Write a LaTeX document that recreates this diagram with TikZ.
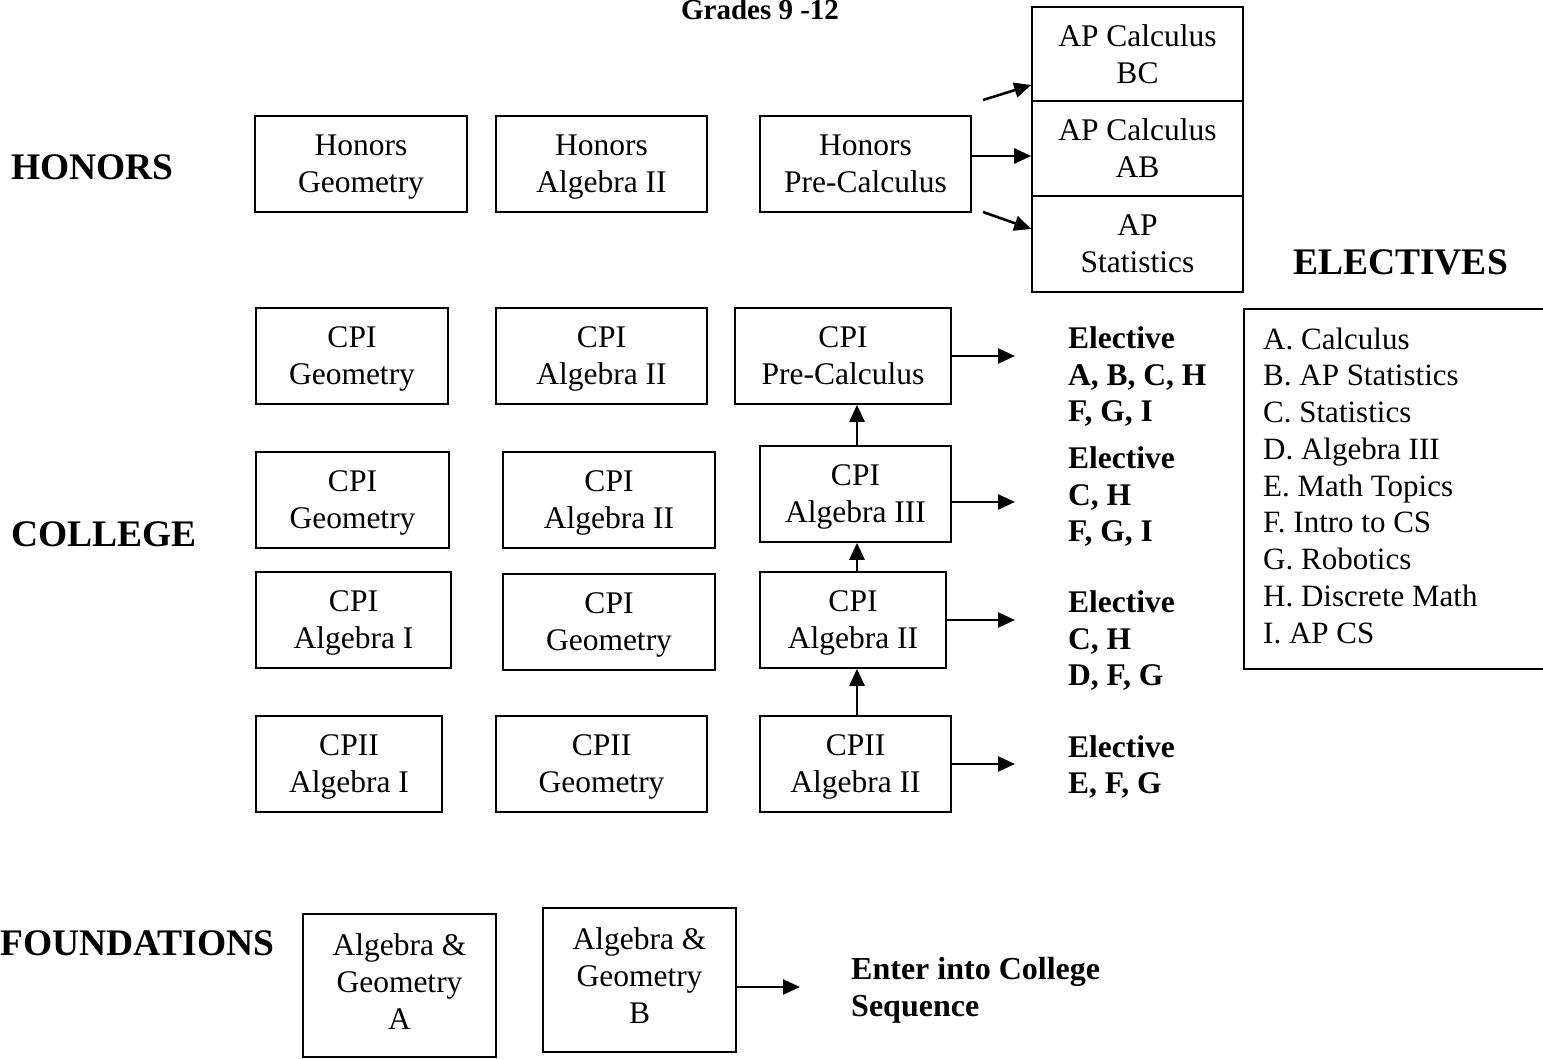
\documentclass[tikz,border=0pt]{standalone}
\usepackage{fontspec}
\setmainfont{Liberation Serif}
\usetikzlibrary{arrows.meta}
\newcommand{\boxfont}{\fontsize{31.5}{37}\selectfont}
\newcommand{\listfont}{\fontsize{31}{36.75}\selectfont}
\newcommand{\elecfont}{\fontsize{31.5}{36.5}\selectfont\bfseries}
\newcommand{\bigfont}{\fontsize{37.5}{44}\selectfont\bfseries}
\tikzset{
  box/.style={draw, line width=1.6pt, align=center, inner sep=0pt, text depth=0pt, font=\boxfont},
  arr/.style={line width=2.6pt, -{Triangle[length=17pt,width=15pt]}},
  lab/.style={anchor=west, inner sep=0pt, font=\bigfont},
  elec/.style={anchor=west, inner sep=0pt, align=left, text depth=0pt, font=\elecfont}
}
\begin{document}
\begin{tikzpicture}[x=1pt,y=-1pt]
\clip (0,0) rectangle (1543,1059);
\fill[white] (0,0) rectangle (1543,1059);

% title
\node[anchor=base, inner sep=0pt, font=\fontsize{29}{34}\selectfont\bfseries] (title) at (760,20) {Grades 9 -12};

% side labels
\node[lab] (honors) at (11,167) {HONORS};
\node[lab] (college) at (11,534) {COLLEGE};
\node[lab] (found) at (0,943) {FOUNDATIONS};
\node[lab] (electives) at (1293,262) {ELECTIVES};

% honors row
\node[box, minimum width=212, minimum height=96] (hg) at (361,164) {Honors\\Geometry};
\node[box, minimum width=211, minimum height=96] (ha) at (601.5,164) {Honors\\Algebra II};
\node[box, minimum width=211, minimum height=96] (hp) at (865.5,164) {Honors\\Pre-Calculus};

% AP boxes
\node[box, minimum width=211, minimum height=94] (bc) at (1137.5,54) {AP Calculus\\BC};
\node[box, minimum width=211, minimum height=95] (ab) at (1137.5,148.5) {AP Calculus\\AB};
\node[box, minimum width=211, minimum height=96] (st) at (1137.5,244) {AP\\Statistics};

\coordinate (t1) at (983,100);
\coordinate (t2) at (983,212);
\coordinate (m1) at (971,156);
\draw[arr] (t1) -- (bc.west |- 0,85);
\draw[arr] (m1) -- (m1 -| ab.west);
\draw[arr] (t2) -- (st.west |- 0,229);

% CPI row 1
\node[box, minimum width=192, minimum height=96] (c1g) at (352,356) {CPI\\Geometry};
\node[box, minimum width=211, minimum height=96] (c1a) at (601.5,356) {CPI\\Algebra II};
\node[box, minimum width=216, minimum height=96] (c1p) at (843,356) {CPI\\Pre-Calculus};
% CPI row 2
\node[box, minimum width=193, minimum height=96] (c2g) at (352.5,500) {CPI\\Geometry};
\node[box, minimum width=212, minimum height=96] (c2a) at (609,500) {CPI\\Algebra II};
\node[box, minimum width=191, minimum height=96] (c2p) at (855.5,494) {CPI\\Algebra III};
% CPI row 3
\node[box, minimum width=195, minimum height=96] (c3a) at (353.5,620) {CPI\\Algebra I};
\node[box, minimum width=212, minimum height=96] (c3g) at (609,622) {CPI\\Geometry};
\node[box, minimum width=186, minimum height=96] (c3p) at (853,620) {CPI\\Algebra II};
% CPII row
\node[box, minimum width=186, minimum height=96] (c4a) at (349,764) {CPII\\Algebra I};
\node[box, minimum width=211, minimum height=96] (c4g) at (601.5,764) {CPII\\Geometry};
\node[box, minimum width=191, minimum height=96] (c4p) at (855.5,764) {CPII\\Algebra II};

% vertical arrows
\coordinate (col) at (857,0);
\draw[arr] (c4p.north -| col) -- (c3p.south -| col);
\draw[arr] (c3p.north -| col) -- (c2p.south -| col);
\draw[arr] (c2p.north -| col) -- (c1p.south -| col);

% elective texts
\node[elec] (e1) at (1068,374.5) {Elective\\A, B, C, H\\F, G, I};
\node[elec] (e2) at (1068,494.5) {Elective\\C, H\\F, G, I};
\node[elec] (e3) at (1068,638.5) {Elective\\C, H\\D, F, G};
\node[elec] (e4) at (1068,764.5) {Elective\\E, F, G};

\coordinate (a1) at (1015,356);
\coordinate (a2) at (1015,502);
\coordinate (a3) at (1015,620);
\coordinate (a4) at (1015,764);
\draw[arr] (c1p.east |- a1) -- (a1);
\draw[arr] (c2p.east |- a2) -- (a2);
\draw[arr] (c3p.east |- a3) -- (a3);
\draw[arr] (c4p.east |- a4) -- (a4);

% electives list box
\node[draw, line width=1.6pt, anchor=north west, inner sep=0pt,
      minimum width=340pt, minimum height=360pt] (elist) at (1243,308) {};
\node[anchor=base west, inner sep=0pt, align=left, font=\listfont] (elisttext) at (1263,643)
  {A. Calculus\\B. AP Statistics\\C. Statistics\\D. Algebra III\\E. Math Topics\\F. Intro to CS\\G. Robotics\\H. Discrete Math\\I. AP CS};

% foundations
\node[box, text depth=8pt, minimum width=193, minimum height=143] (fa) at (399.5,985.5) {Algebra \&\\Geometry\\A};
\node[box, text depth=8pt, minimum width=193, minimum height=144] (fb) at (639.5,980) {Algebra \&\\Geometry\\B};
\coordinate (fe) at (800,987);
\draw[arr] (fb.east |- fe) -- (fe);
\node[elec, font=\fontsize{32}{37}\selectfont\bfseries] (enter) at (851,986.5) {Enter into College\\Sequence};
\end{tikzpicture}
\end{document}
